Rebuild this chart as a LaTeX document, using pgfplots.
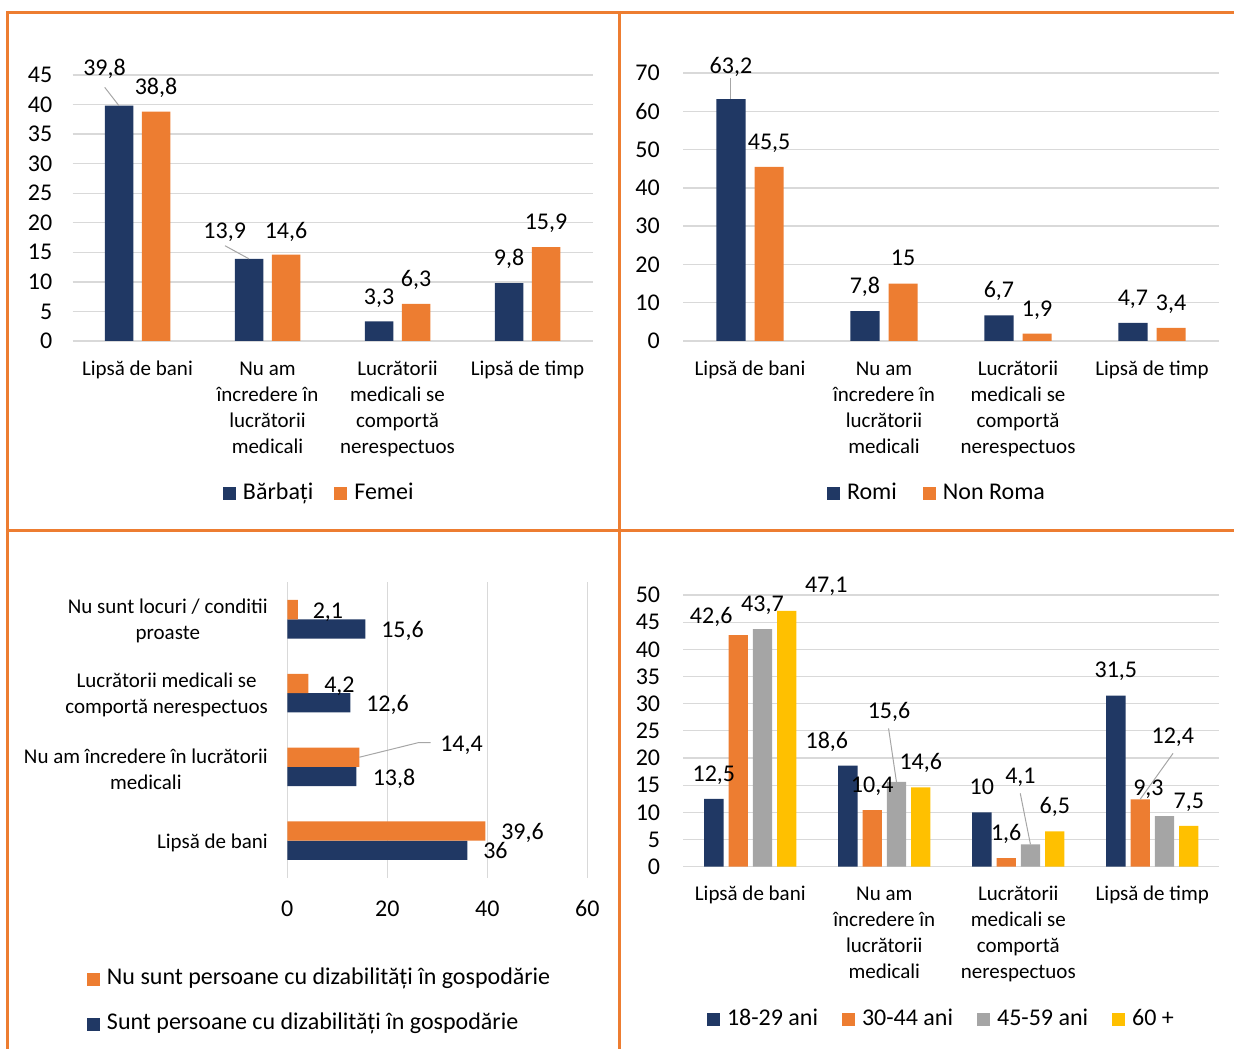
\documentclass[border=0pt]{standalone}
\usepackage{fontspec}
\setmainfont{Carlito}
\usepackage{pgfplots}
\usepackage{pgfplotstable}
\pgfplotsset{compat=1.18}
\definecolor{cnavy}{HTML}{203864}
\definecolor{corg}{HTML}{ED7D31}
\definecolor{cgry}{HTML}{A5A5A5}
\definecolor{cylw}{HTML}{FFC000}
\definecolor{cgrid}{HTML}{D9D9D9}
\definecolor{clead}{HTML}{A6A6A6}
\newcommand\fs{\fontsize{21}{26}\selectfont}
\newcommand\fn{\fontsize{24}{29}\selectfont}

% Panel 1: Barbati / Femei
\pgfplotstableread{
x y lab dx dy
0 39.8 39,8 -14.5 37.4
1 13.9 13,9 -24.3 27
2 3.3 3,3 0 24.5
3 9.8 9,8 0 24.5
}\tA
\pgfplotstableread{
x y lab dx dy
0 38.8 38,8 0 24
1 14.6 14,6 0 23
2 6.3 6,3 0 24.5
3 15.9 15,9 0 25
}\tB
% Panel 2: Romi / Non Roma
\pgfplotstableread{
x y lab dx dy
0 63.2 63,2 0 33
1 7.8 7,8 0 24.5
2 6.7 6,7 0 24.5
3 4.7 4,7 0 24.5
}\tC
\pgfplotstableread{
x y lab dx dy
0 45.5 45,5 0 24.5
1 15 15 0 25
2 1.9 1,9 0 24.5
3 3.4 3,4 0 24.5
}\tD
% Panel 3: dizabilitati
\pgfplotstableread{
cat val lab dx dy
0 36 36 16 -1.5
1 13.8 13,8 16.5 -1.5
2 12.6 12,6 16 -1.5
3 15.6 15,6 16 -1.5
}\tE
\pgfplotstableread{
cat val lab dx dy
0 39.6 39,6 16 -1.5
1 14.4 14,4 81 12.7
2 4.2 4,2 16 -1.5
3 2.1 2,1 15 -1.5
}\tEo
% Panel 4: age groups
\pgfplotstableread{
x y lab dx dy
0 12.5 12,5 0 24
1 18.6 18,6 -21 24.6
2 10 10 0 24.5
3 31.5 31,5 0 25
}\tF
\pgfplotstableread{
x y lab dx dy
0 42.6 42,6 -27 18.5
1 10.4 10,4 0 24.5
2 1.6 1,6 0 24.7
3 12.4 12,4 32.7 62.6
}\tG
\pgfplotstableread{
x y lab dx dy
0 43.7 43,7 0 25
1 15.6 15,6 -7.4 71
2 4.1 4,1 -10 67.7
3 9.3 9,3 -16 27.7
}\tH
\pgfplotstableread{
x y lab dx dy
0 47.1 47,1 39.5 25.8
1 14.6 14,6 0 24.7
2 6.5 6,5 0 25
3 7.5 7,5 0 24.5
}\tI

\pgfplotsset{
  base/.style={
    scale only axis, clip=false,
    axis line style={draw=none},
    major tick length=0pt,
    /pgf/number format/assume math mode=true,
    tick label style={font=\fn, text=black},
    grid style={draw=cgrid, line width=1.3pt},
    point meta=explicit symbolic,
    nodes near coords={\smash{\makebox[0pt][c]{\pgfplotspointmeta}}},
    visualization depends on={\thisrow{dx}\as\dx},
    visualization depends on={\thisrow{dy}\as\dy},
    every node near coord/.style={font=\fn, text=black, inner sep=0pt, outer sep=0pt,
      xshift=\dx pt, yshift=\dy pt-7.6pt},
    legend style={draw=none, fill=none, inner sep=0pt, outer sep=0pt, font=\fn,
      nodes={inner sep=0pt, text height=16pt, text depth=5pt},
      /tikz/every odd column/.append style={column sep=7pt}},
    legend cell align=left,
  },
  sq/.style={legend image code/.code={\fill[##1] (0pt,-6.5pt) rectangle (13pt,6.5pt);}},
  cat/.style={xtick={0,1,2,3}, xmin=-0.5, xmax=3.5, ymin=0, ymajorgrids,
    xticklabels={{\strut Lipsă de bani},{\strut Nu am\\încredere în\\lucrătorii\\medicali},{\strut Lucrătorii\\medicali se\\comportă\\nerespectuos},{\strut Lipsă de timp}},
    xticklabel style={font=\fs, anchor=north, inner sep=0pt, yshift=-15.8pt, align=center}},
}

\begin{document}
\begin{tikzpicture}
\path (0pt,0pt) rectangle (1234pt,1049pt);

% ---------- Panel 1 ----------
\begin{axis}[base, cat, at={(72.5pt,708pt)}, anchor=south west, width=520pt, height=266pt,
  ybar=8.5pt, bar width=28.5pt, ymax=45, ytick={0,5,...,45},
  yticklabel style={anchor=east, inner sep=0pt, xshift=-20pt},
  legend columns=2,
  legend style={at={(0.2894,-0.5752)}, anchor=west,
    /tikz/every even column/.append style={column sep=21pt}},
]
\addplot[sq, fill=cnavy, draw=none] table[x=x,y=y,meta=lab]{\tA};
\addplot[sq, fill=corg, draw=none] table[x=x,y=y,meta=lab]{\tB};
\legend{Bărbați, Femei}
\draw[clead, line width=1pt] ([xshift=-32.8pt,yshift=18.4pt]axis cs:0,39.8) -- ([xshift=-18.5pt]axis cs:0,39.8);
\draw[clead, line width=1pt] ([xshift=-42.5pt,yshift=13.1pt]axis cs:1,13.9) -- ([xshift=-18.5pt]axis cs:1,13.9);
\end{axis}

% ---------- Panel 2 ----------
\begin{axis}[base, cat, at={(683pt,708pt)}, anchor=south west, width=536pt, height=268pt,
  ybar=9pt, bar width=29.2pt, ymax=70, ytick={0,10,...,70},
  yticklabel style={anchor=east, inner sep=0pt, xshift=-23pt},
  legend columns=2,
  legend style={at={(0.2687,-0.5709)}, anchor=west,
    /tikz/every even column/.append style={column sep=26pt}},
]
\addplot[sq, fill=cnavy, draw=none] table[x=x,y=y,meta=lab]{\tC};
\addplot[sq, fill=corg, draw=none] table[x=x,y=y,meta=lab]{\tD};
\legend{Romi, Non Roma}
\draw[clead, line width=1pt] ([xshift=-19.1pt,yshift=21pt]axis cs:0,63.2) -- ([xshift=-19.1pt]axis cs:0,63.2);
\end{axis}

% ---------- Panel 3 ----------
\begin{axis}[base, at={(287.3pt,171.4pt)}, anchor=south west, width=300pt, height=295.2pt,
  xbar=0pt, bar width=19.3pt,
  xmin=0, xmax=60, xtick={0,20,40,60}, xmajorgrids,
  ymin=-0.5, ymax=3.5, ytick={0,1,2,3},
  yticklabels={{Lipsă de bani},{Nu am încredere în lucrătorii\\medicali},{Lucrătorii medicali se\\comportă nerespectuos},{Nu sunt locuri / conditii\\proaste}},
  yticklabel style={font=\fs, anchor=east, inner sep=0pt, xshift=-19.3pt, yshift=-2pt, align=center},
  xticklabel style={anchor=north, inner sep=0pt, yshift=-22.8pt},
  nodes near coords={\smash{\makebox[0pt][l]{\pgfplotspointmeta}}},
  reverse legend,
  legend style={at={(-0.6677,-0.4198)}, anchor=west, row sep=24pt},
]
\addplot[sq, fill=cnavy, draw=none, bar shift=-9.65pt] table[x=val,y=cat,meta=lab]{\tE};
\addplot[sq, fill=corg, draw=none, bar shift=9.65pt] table[x=val,y=cat,meta=lab]{\tEo};
\legend{Sunt persoane cu dizabilități în gospodărie, Nu sunt persoane cu dizabilități în gospodărie}
\draw[clead, line width=1pt] ([yshift=9.65pt]axis cs:14.4,1) -- ++(59pt,14.6pt) -- ++(12.4pt,0pt);
\end{axis}

% ---------- Panel 4 ----------
\begin{axis}[base, cat, at={(683.3pt,182.3pt)}, anchor=south west, width=536pt, height=271.7pt,
  ybar=5pt, bar width=19.3pt, ymax=50, ytick={0,5,...,50},
  yticklabel style={anchor=east, inner sep=0pt, xshift=-23pt},
  legend columns=4,
  legend style={at={(0.0442,-0.5642)}, anchor=west,
    /tikz/every even column/.append style={column sep=24pt}},
]
\addplot[sq, fill=cnavy, draw=none] table[x=x,y=y,meta=lab]{\tF};
\addplot[sq, fill=corg, draw=none] table[x=x,y=y,meta=lab]{\tG};
\addplot[sq, fill=cgry, draw=none] table[x=x,y=y,meta=lab]{\tH};
\addplot[sq, fill=cylw, draw=none] table[x=x,y=y,meta=lab]{\tI};
\legend{18-29 ani, 30-44 ani, 45-59 ani, 60 +}
\draw[clead, line width=1pt] ([xshift=4.25pt,yshift=53.6pt]axis cs:1,15.6) -- ([xshift=12.15pt]axis cs:1,15.6);
\draw[clead, line width=1pt] ([xshift=1.95pt,yshift=51.1pt]axis cs:2,4.1) -- ([xshift=12.15pt]axis cs:2,4.1);
\draw[clead, line width=1pt] ([xshift=20.75pt,yshift=46pt]axis cs:3,12.4) -- ([xshift=-12.15pt]axis cs:3,12.4);
\end{axis}

% ---------- Frame ----------
\begin{scope}[overlay]
\draw[corg, line width=3pt] (6pt,1036.5pt) -- (1236pt,1036.5pt);
\draw[corg, line width=3pt] (7.5pt,1038pt) -- (7.5pt,-2pt);
\draw[corg, line width=3pt] (619pt,1038pt) -- (619pt,-2pt);
\draw[corg, line width=3pt] (6pt,518pt) -- (1236pt,518pt);
\end{scope}
\end{tikzpicture}
\end{document}
